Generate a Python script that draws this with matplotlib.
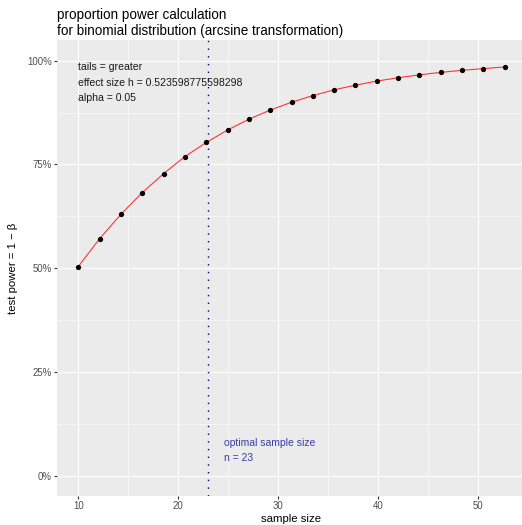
import numpy as np
import matplotlib.pyplot as plt
from matplotlib.ticker import FuncFormatter, MultipleLocator

# values
sample_size = [10.0, 12.13, 14.26, 16.39, 18.53, 20.66, 22.79, 24.92, 27.05, 29.18,
               31.32, 33.45, 35.58, 37.71, 39.84, 41.97, 44.11, 46.24, 48.37, 50.50, 52.63]
power = [0.504, 0.571, 0.630, 0.682, 0.728, 0.769, 0.803, 0.833, 0.859, 0.881,
         0.900, 0.916, 0.930, 0.941, 0.951, 0.959, 0.966, 0.972, 0.977, 0.981, 0.985]
optimal_n = 23
info_lines = ["tails = greater", "effect size h = 0.523598775598298", "alpha = 0.05"]
title_lines = ["proportion power calculation",
               "for binomial distribution (arcsine transformation)"]

plt.rcParams['font.family'] = ['Liberation Sans', 'DejaVu Sans']

W, H = 522, 525
fig = plt.figure(figsize=(W / 72, H / 72), dpi=72)
left, right, top, bottom = 57, 526, 40, 496.4
ax = fig.add_axes([left / W, 1 - bottom / H, (right - left) / W, (bottom - top) / H])

ax.set_facecolor('#EBEBEB')
for s in ax.spines.values():
    s.set_visible(False)

ax.set_xlim(7.87, 54.76)
ax.set_ylim(-0.05, 1.05)
ax.xaxis.set_major_locator(MultipleLocator(10))
ax.xaxis.set_minor_locator(MultipleLocator(5))
ax.yaxis.set_major_locator(MultipleLocator(0.25))
ax.yaxis.set_minor_locator(MultipleLocator(0.125))
ax.yaxis.set_major_formatter(FuncFormatter(lambda v, p: f"{v * 100:.0f}%"))
ax.grid(True, which='major', color='white', linewidth=1.1)
ax.grid(True, which='minor', color='white', linewidth=0.55)
ax.set_axisbelow(True)
ax.tick_params(which='major', length=2.7, width=1.1, color='#333333',
               labelsize=9.6, labelcolor='#4D4D4D', pad=2.4)
ax.tick_params(which='minor', length=0)

ax.plot(sample_size, power, color='#FF3333', linewidth=1.1, zorder=3)
ax.scatter(sample_size, power, color='black', s=28, zorder=4, linewidths=0)

ax.axvline(optimal_n, color='#00008B', linestyle=(0, (1, 4.5)), linewidth=1.4, zorder=5)

ax.text(sample_size[0], 0.997, "\n".join(info_lines), fontsize=10.5, color='#1A1A1A',
        va='top', ha='left', linespacing=1.7)
ax.text(optimal_n + 1.6, 0.03, f"optimal sample size\nn = {optimal_n}", fontsize=10.4,
        color='#3B3BA8', va='bottom', ha='left', linespacing=1.65)

ax.set_xlabel("sample size", fontsize=11.4, color='black', labelpad=3)
ax.set_ylabel("test power = 1 \u2212 \u03b2", fontsize=11.4, color='black', labelpad=9)

fig.text(left / W, 1 - 8 / H, "\n".join(title_lines), fontsize=13.5, va='top',
         ha='left', linespacing=1.2)

fig.savefig('out.png', dpi=72)
